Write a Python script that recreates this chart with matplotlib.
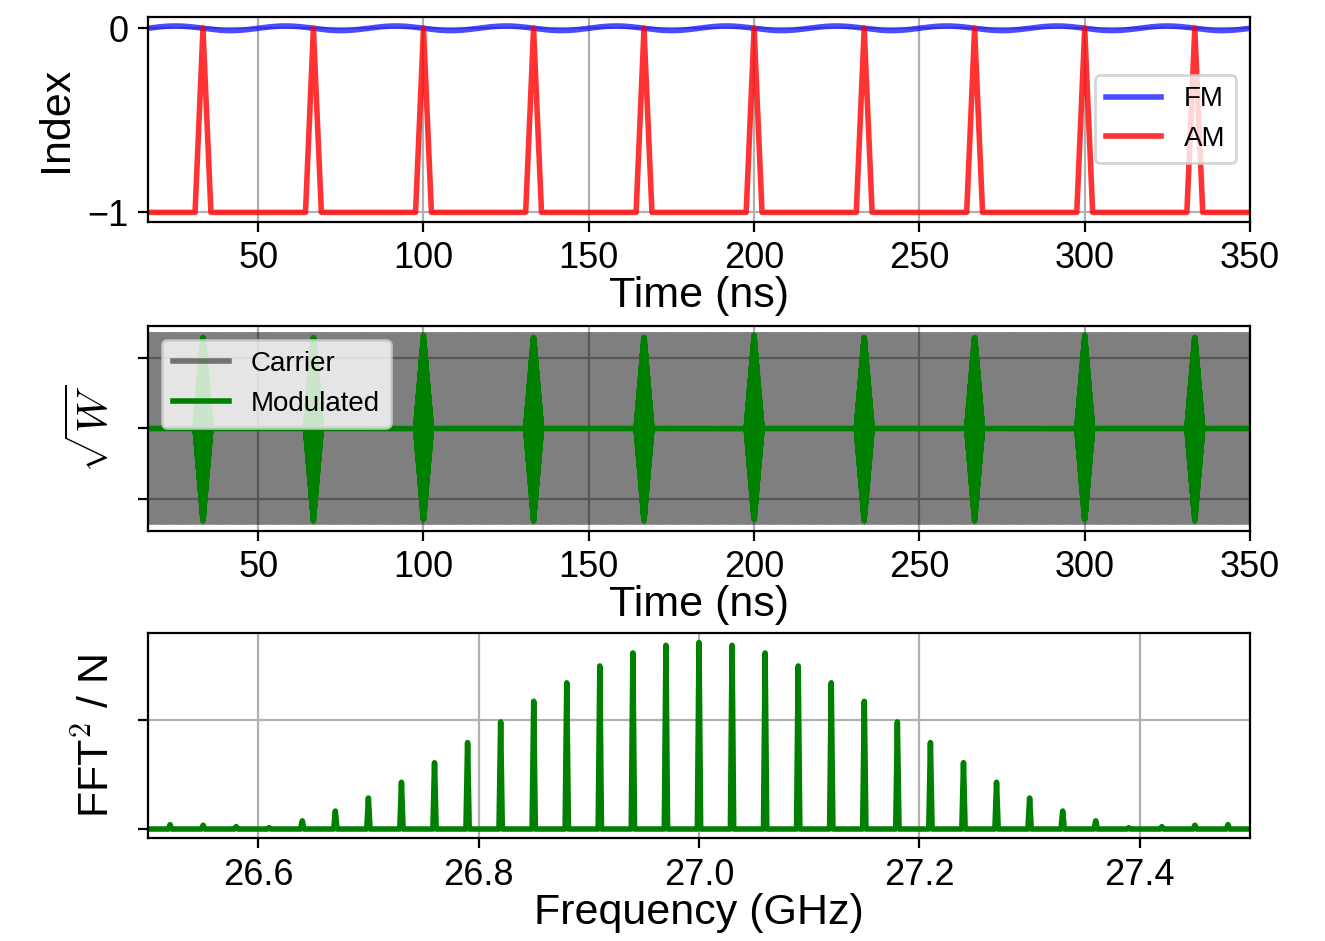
import numpy as np
import matplotlib.pyplot as plt

plt.rcParams['font.family'] = ['Liberation Sans', 'DejaVu Sans']
plt.rcParams['mathtext.fontset'] = 'cm'

# pulse train (ns)
pulse_times = [33.3, 66.7, 100.0, 133.3, 166.7, 200.0, 233.3, 266.7, 300.0, 333.3]
pulse_offsets = [-2.4, -1.0, 0.0, 1.0, 2.4]
pulse_index = [-1.0, -0.42, 0.0, -0.42, -1.0]

t_start, t_end = 0.0, 350.0
mod_period = 33.33     # ns
fm_depth = 0.0125      # FM ripple around 0
carrier_ghz = 27.0
carrier_amp = 1.33

# spectrum lines (GHz) and FFT^2/N heights
fft_freq = [26.52, 26.55, 26.58, 26.61, 26.64, 26.67, 26.70, 26.73, 26.76, 26.79, 26.82,
            26.85, 26.88, 26.91, 26.94, 26.97, 27.00, 27.03, 27.06, 27.09, 27.12, 27.15,
            27.18, 27.21, 27.24, 27.27, 27.30, 27.33, 27.36, 27.39, 27.42, 27.45, 27.48]
fft_power = [0.04, 0.035, 0.022, 0.012, 0.075, 0.165, 0.285, 0.43, 0.61, 0.795, 0.985,
             1.175, 1.345, 1.50, 1.62, 1.69, 1.715, 1.69, 1.62, 1.50, 1.345, 1.175,
             0.985, 0.795, 0.61, 0.43, 0.285, 0.165, 0.075, 0.012, 0.022, 0.035, 0.04]

time_ticks = [50, 100, 150, 200, 250, 300, 350]
freq_ticks = [26.6, 26.8, 27.0, 27.2, 27.4]

# AM index: flat at -1 with a short pulse at each pulse time
am_t = [t_start] + [c + o for c in pulse_times for o in pulse_offsets] + [t_end]
am_v = [-1.0] + pulse_index * len(pulse_times) + [-1.0]

t_top = np.linspace(t_start, t_end, 1401)
fm = -fm_depth * np.sin(2 * np.pi * t_top / mod_period)

t = np.arange(t_start, t_end, 0.005)
carrier = carrier_amp * np.cos(2 * np.pi * carrier_ghz * t)
envelope = np.interp(t, am_t, am_v) + 1.0
modulated = carrier * envelope

# spectrum as one line with narrow spikes
spec_x = [26.49]
spec_y = [0.0]
for f, p in zip(fft_freq, fft_power):
    spec_x += [f - 0.0015, f, f + 0.0015]
    spec_y += [0.0, p, 0.0]
spec_x.append(27.51)
spec_y.append(0.0)

fig = plt.figure(figsize=(6.625, 4.705), dpi=200)
left, width, height = 0.1117, 0.8317, 0.2179
ax1 = fig.add_axes([left, 0.7644, width, height])
ax2 = fig.add_axes([left, 0.4357, width, height])
ax3 = fig.add_axes([left, 0.1091, width, height])

lab = 15.5

ax1.plot(t_top, fm, color='b', alpha=0.7, lw=2, label='FM')
ax1.plot(am_t, am_v, color='r', alpha=0.8, lw=2, label='AM')
ax1.set_xlim(16.67, 350)
ax1.set_xticks(time_ticks)
ax1.set_yticks([-1, 0])
ax1.set_xlabel('Time (ns)', fontsize=lab, labelpad=0)
ax1.set_ylabel('Index', fontsize=lab)
ax1.tick_params(labelsize=13)
ax1.grid(True)
ax1.legend(loc='center right', fontsize=10)

ax2.plot(t, carrier, color='k', alpha=0.5, lw=2, label='Carrier')
ax2.plot(t, modulated, color='g', lw=2, label='Modulated')
ax2.set_xlim(16.67, 350)
ax2.set_xticks(time_ticks)
ax2.set_yticks([-1, 0, 1])
ax2.set_yticklabels([])
ax2.set_xlabel('Time (ns)', fontsize=lab, labelpad=0)
ax2.set_ylabel(r'$\sqrt{W}$', fontsize=lab)
ax2.tick_params(labelsize=13)
ax2.grid(True)
ax2.legend(loc='upper left', fontsize=10)

ax3.plot(spec_x, spec_y, color='g', lw=2)
ax3.set_xlim(26.5, 27.5)
ax3.set_xticks(freq_ticks)
ax3.set_yticks([0, 1])
ax3.set_yticklabels([])
ax3.set_xlabel('Frequency (GHz)', fontsize=lab, labelpad=0)
ax3.set_ylabel('FFT$^2$ / N', fontsize=lab)
ax3.tick_params(labelsize=13)
ax3.grid(True)

fig.savefig('out.png', dpi=200)
